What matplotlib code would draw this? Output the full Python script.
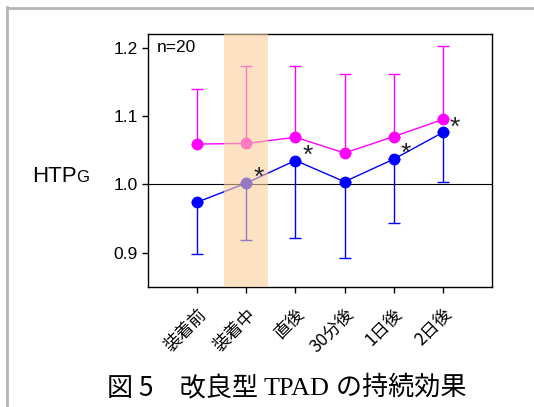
import matplotlib
matplotlib.use("Agg")
import matplotlib.pyplot as plt
from matplotlib.lines import Line2D
import numpy as np

categories = ["装着前", "装着中", "直後", "30分後", "1日後", "2日後"]
pink_mean = [1.059, 1.060, 1.069, 1.046, 1.070, 1.095]
pink_upper = [1.140, 1.173, 1.173, 1.161, 1.161, 1.202]
blue_mean = [0.974, 1.002, 1.035, 1.004, 1.037, 1.076]
blue_lower = [0.898, 0.919, 0.922, 0.893, 0.944, 1.004]
star_idx = [1, 2, 4, 5]
yticks = [0.9, 1.0, 1.1, 1.2]

plt.rcParams['font.family'] = ['Liberation Sans', 'Noto Sans CJK JP']

fig = plt.figure(figsize=(5.34, 4.07), dpi=100)
ax = fig.add_axes([148/534, 1-287/407, (492-148)/534, (287-34)/407])

x = np.arange(len(categories))
pm = np.array(pink_mean); pu = np.array(pink_upper)
bm = np.array(blue_mean); bl = np.array(blue_lower)

ax.axhline(1.0, color='black', lw=0.8, zorder=1)
ax.errorbar(x, pm, yerr=[np.zeros_like(pm), pu - pm], color='#ff00ff', marker='o',
            ms=7.5, lw=1.0, elinewidth=1.0, capsize=4, capthick=1.0, zorder=3)
ax.errorbar(x, bm, yerr=[bm - bl, np.zeros_like(bm)], color='#0000ff', marker='o',
            ms=7.5, lw=1.0, elinewidth=1.0, capsize=4, capthick=1.0, zorder=3)
ax.axvspan(0.55, 1.45, color='#facd9b', alpha=0.6, lw=0, zorder=4)

for i in star_idx:
    ax.annotate('*', (x[i], bm[i]), xytext=(5, -5), textcoords='offset points',
                fontsize=19, ha='left', va='bottom', color='#222222', zorder=6)

ax.text(0.025, 0.975, 'n=20', transform=ax.transAxes, fontsize=12.5, ha='left', va='top')

ax.set_xlim(-1, 6)
ax.set_ylim(0.85, 1.22)
ax.set_yticks(yticks)
ax.set_yticklabels([f"{v:.1f}" for v in yticks], fontsize=12.5)
ax.set_xticks(x)
ax.set_xticklabels(categories, rotation=45, ha='right', va='top', rotation_mode='anchor',
                   fontsize=12.5, family=['Noto Sans CJK JP'])
ax.tick_params(direction='out', length=4, width=1, colors='black')
ax.tick_params(axis='x', pad=9)
for s in ax.spines.values():
    s.set_linewidth(1.0)
    s.set_color('black')

# y label HTP_G
fig.text(32/534, 1-182/407, 'HTP', fontsize=16, ha='left', va='baseline')
fig.text(76.5/534, 1-182/407, 'G', fontsize=12, ha='left', va='baseline')

# gray frame
fig.add_artist(Line2D([7/534, 7/534], [0, 1-7/407], transform=fig.transFigure, color='#b5b5b5', lw=2))
fig.add_artist(Line2D([7/534, 1], [1-8/407, 1-8/407], transform=fig.transFigure, color='#b5b5b5', lw=2))

# title in pieces
fig.canvas.draw()
r = fig.canvas.get_renderer()
pieces = [("図 5\u3000改良型 ", ['Noto Sans CJK JP']),
          ("TPAD", ['Liberation Serif']),
          (" の持続効果", ['Noto Sans CJK JP'])]
xpos = 107
ybase = 1 - 395/407
for txt, fam in pieces:
    t = fig.text(xpos/534, ybase, txt, fontsize=18.8, family=fam, ha='left', va='baseline')
    bb = t.get_window_extent(renderer=r)
    xpos += bb.width

fig.savefig('out.png', dpi=100)
